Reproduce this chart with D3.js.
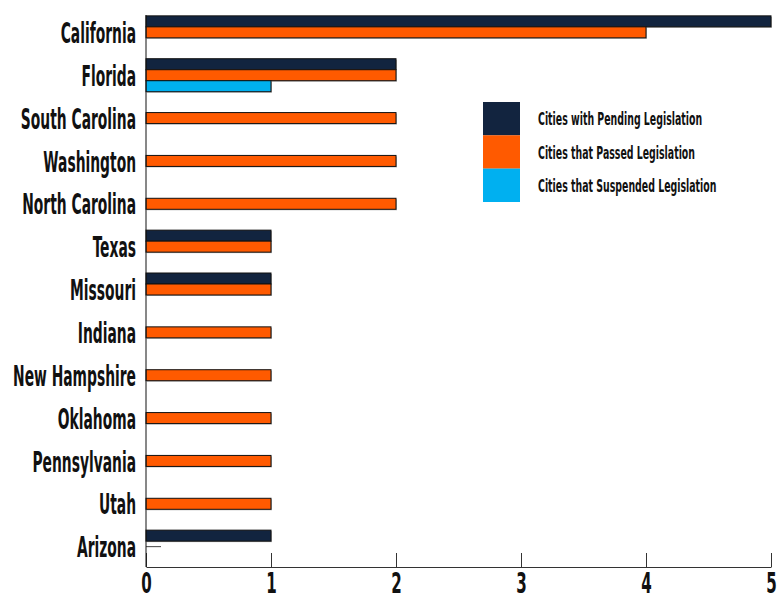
<!DOCTYPE html>
<html>
<head>
<meta charset="utf-8">
<script src="https://cdn.jsdelivr.net/npm/d3@7"></script>
<style>
  body { margin: 0; background: #fff; }
  text { font-family: "DejaVu Sans Condensed", "DejaVu Sans", sans-serif; font-weight: bold; }
</style>
</head>
<body>
<svg id="chart"></svg>
<script>
// data
const states = ["California", "Florida", "South Carolina", "Washington", "North Carolina", "Texas",
  "Missouri", "Indiana", "New Hampshire", "Oklahoma", "Pennsylvania", "Utah", "Arizona"];
const seriesNames = ["Cities with Pending Legislation", "Cities that Passed Legislation", "Cities that Suspended Legislation"];
const pending   = [5, 2, 0, 0, 0, 1, 1, 0, 0, 0, 0, 0, 1];
const passed    = [4, 2, 2, 2, 2, 1, 1, 1, 1, 1, 1, 1, 0];
const suspended = [0, 1, 0, 0, 0, 0, 0, 0, 0, 0, 0, 0, 0];
// the little flat stub drawn under Arizona in the original
const stubs = [{ state: "Arizona", series: "Cities that Passed Legislation", value: 0.12 }];
const xTicks = [0, 1, 2, 3, 4, 5];
const colors = ["#12243f", "#ff5a00", "#00b0f0"];

const W = 779, H = 599;
const SX = 0.55; // squeeze text to look like a condensed gothic face
const svg = d3.select("#chart").attr("width", W).attr("height", H);

const x = d3.scaleLinear().domain([0, 5]).range([146, 771]);
const y = d3.scaleBand().domain(states).range([6, 573]).paddingInner(0.23).paddingOuter(0.23);
const ySub = d3.scaleBand().domain(seriesNames).range([0, y.bandwidth()]);

const rows = [];
states.forEach((s, i) => {
  [pending, passed, suspended].forEach((arr, k) => {
    if (arr[i] > 0) rows.push({ state: s, series: seriesNames[k], value: arr[i], k: k });
  });
});

// shadows
svg.append("g").selectAll("rect").data(rows).enter().append("rect")
  .attr("x", x(0) + 1)
  .attr("y", d => y(d.state) + ySub(d.series) + 1)
  .attr("width", d => x(d.value) - x(0))
  .attr("height", ySub.bandwidth())
  .attr("fill", "#b5b5b5");

svg.append("g").selectAll("rect").data(rows).enter().append("rect")
  .attr("x", x(0))
  .attr("y", d => y(d.state) + ySub(d.series))
  .attr("width", d => x(d.value) - x(0))
  .attr("height", ySub.bandwidth())
  .attr("fill", d => colors[d.k])
  .attr("stroke", "#111")
  .attr("stroke-width", 1);

svg.append("g").selectAll("line").data(stubs).enter().append("line")
  .attr("x1", x(0))
  .attr("x2", d => x(d.value))
  .attr("y1", d => y(d.state) + ySub(d.series) + ySub.bandwidth() / 2)
  .attr("y2", d => y(d.state) + ySub(d.series) + ySub.bandwidth() / 2)
  .attr("stroke", "#444").attr("stroke-width", 1);

// x axis
const xAxis = svg.append("g").attr("transform", "translate(0,567)")
  .call(d3.axisBottom(x).tickValues(xTicks).tickFormat(d3.format("d")).tickSizeInner(-14).tickSizeOuter(0));
xAxis.select(".domain").attr("stroke", "#333");
xAxis.selectAll(".tick line").attr("stroke", "#333");
xAxis.selectAll(".tick text")
  .attr("font-size", 28).attr("fill", "#111")
  .attr("y", 26).attr("dy", 0)
  .attr("transform", `scale(0.6,1)`);

// y axis
const yAxis = svg.append("g").attr("transform", "translate(146,0)")
  .call(d3.axisLeft(y).tickSize(0));
yAxis.select(".domain").attr("stroke", "#111").attr("d", "M0,15V567");
yAxis.selectAll(".tick text").attr("font-size", 28).attr("fill", "#111")
  .attr("x", -10 / SX).attr("dy", "0.38em")
  .attr("transform", `scale(${SX},1)`);

// legend
const legend = svg.append("g").attr("transform", "translate(483,102)");
seriesNames.forEach((s, k) => {
  legend.append("rect").attr("x", 0).attr("y", k * 33.3).attr("width", 37).attr("height", 33.4).attr("fill", colors[k]);
  legend.append("text").attr("transform", `translate(55,${k * 33.3 + 17}) scale(0.58,1)`)
    .attr("dy", "0.35em")
    .attr("font-size", 18).attr("fill", "#111").text(s);
});
</script>
</body>
</html>
